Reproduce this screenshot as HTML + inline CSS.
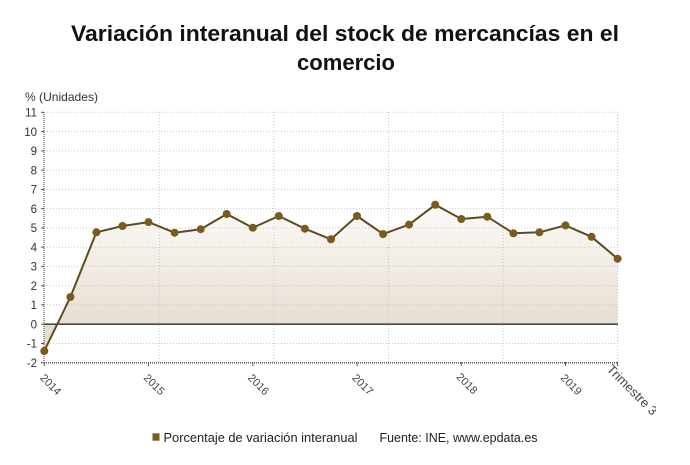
<!DOCTYPE html>
<html><head><meta charset="utf-8"><style>
html,body{margin:0;padding:0;background:#fff;}
svg{display:block;}
text{font-family:"Liberation Sans",sans-serif;}
</style></head><body>
<svg width="690" height="465" viewBox="0 0 690 465" xmlns="http://www.w3.org/2000/svg">
<defs>
<linearGradient id="g" gradientUnits="userSpaceOnUse" x1="0" y1="205" x2="0" y2="324">
<stop offset="0" stop-color="#fcfbf9"/>
<stop offset="1" stop-color="#e7ded2"/>
</linearGradient>
<clipPath id="cl"><rect x="0" y="0" width="656" height="465"/></clipPath>
</defs>
<rect width="690" height="465" fill="#fff"/>
<text x="345" y="41" text-anchor="middle" font-size="22" font-weight="bold" fill="#111" textLength="548" lengthAdjust="spacingAndGlyphs">Variación interanual del stock de mercancías en el</text>
<text x="346" y="70" text-anchor="middle" font-size="22" font-weight="bold" fill="#111" textLength="98" lengthAdjust="spacingAndGlyphs">comercio</text>
<text x="25" y="101" font-size="12" fill="#333" textLength="73" lengthAdjust="spacingAndGlyphs">% (Unidades)</text>

<!-- area -->
<polygon fill="url(#g)" points="44.3,324.2 44.3,351.0 70.4,297.0 96.4,232.3 122.5,226.0 148.5,222.1 174.6,232.7 200.7,229.2 226.7,214.0 252.8,227.7 278.8,216.0 304.9,228.7 331.0,239.3 357.0,216.0 383.1,234.1 409.1,224.6 435.2,204.8 461.3,219.0 487.3,216.7 513.4,233.3 539.4,232.3 565.5,225.4 591.6,236.8 617.6,258.7 617.6,324.2"/>

<!-- horizontal grid -->
<g stroke="#c8c8c8" stroke-width="1" stroke-dasharray="1,2">
<line x1="44" x2="618" y1="112.3" y2="112.3"/>
<line x1="44" x2="618" y1="131.6" y2="131.6"/>
<line x1="44" x2="618" y1="150.9" y2="150.9"/>
<line x1="44" x2="618" y1="170.1" y2="170.1"/>
<line x1="44" x2="618" y1="189.4" y2="189.4"/>
<line x1="44" x2="618" y1="208.6" y2="208.6"/>
<line x1="44" x2="618" y1="227.9" y2="227.9"/>
<line x1="44" x2="618" y1="247.2" y2="247.2"/>
<line x1="44" x2="618" y1="266.4" y2="266.4"/>
<line x1="44" x2="618" y1="285.7" y2="285.7"/>
<line x1="44" x2="618" y1="304.9" y2="304.9"/>
<line x1="44" x2="618" y1="343.5" y2="343.5"/>
</g>
<!-- vertical grid -->
<g stroke="#c8c8c8" stroke-width="1" stroke-dasharray="1,2">
<line x1="159.3" x2="159.3" y1="112" y2="362"/>
<line x1="273.9" x2="273.9" y1="112" y2="362"/>
<line x1="388.5" x2="388.5" y1="112" y2="362"/>
<line x1="503.1" x2="503.1" y1="112" y2="362"/>
<line x1="617.7" x2="617.7" y1="112" y2="362"/>
</g>

<!-- zero line -->
<line x1="44" x2="618" y1="324.2" y2="324.2" stroke="#4a4a44" stroke-width="1.6"/>

<!-- axes -->
<line x1="44" x2="44" y1="112" y2="363" stroke="#555" stroke-width="1.2" stroke-dasharray="1,1"/>
<line x1="44" x2="618" y1="362.7" y2="362.7" stroke="#555" stroke-width="1.5" stroke-dasharray="1,1"/>
<g stroke="#555" stroke-width="1">
<line x1="41" x2="44" y1="112.3" y2="112.3"/><line x1="41" x2="44" y1="131.6" y2="131.6"/>
<line x1="41" x2="44" y1="150.9" y2="150.9"/><line x1="41" x2="44" y1="170.1" y2="170.1"/>
<line x1="41" x2="44" y1="189.4" y2="189.4"/><line x1="41" x2="44" y1="208.6" y2="208.6"/>
<line x1="41" x2="44" y1="227.9" y2="227.9"/><line x1="41" x2="44" y1="247.2" y2="247.2"/>
<line x1="41" x2="44" y1="266.4" y2="266.4"/><line x1="41" x2="44" y1="285.7" y2="285.7"/>
<line x1="41" x2="44" y1="304.9" y2="304.9"/><line x1="41" x2="44" y1="324.2" y2="324.2"/>
<line x1="41" x2="44" y1="343.5" y2="343.5"/><line x1="41" x2="44" y1="362.7" y2="362.7"/>
<line x1="44.3" x2="44.3" y1="362" y2="366"/><line x1="148.5" x2="148.5" y1="362" y2="366"/>
<line x1="252.8" x2="252.8" y1="362" y2="366"/><line x1="357" x2="357" y1="362" y2="366"/>
<line x1="461.3" x2="461.3" y1="362" y2="366"/><line x1="565.5" x2="565.5" y1="362" y2="366"/>
<line x1="617.6" x2="617.6" y1="362" y2="366"/>
</g>

<!-- y labels -->
<g font-size="11.5" fill="#333" text-anchor="end">
<text x="37" y="116.5">11</text><text x="37" y="135.8">10</text>
<text x="37" y="155.1">9</text><text x="37" y="174.3">8</text>
<text x="37" y="193.6">7</text><text x="37" y="212.8">6</text>
<text x="37" y="232.1">5</text><text x="37" y="251.4">4</text>
<text x="37" y="270.6">3</text><text x="37" y="289.9">2</text>
<text x="37" y="309.1">1</text><text x="37" y="328.4">0</text>
<text x="37" y="347.7">-1</text><text x="37" y="366.9">-2</text>
</g>

<!-- x labels -->
<g font-size="11" fill="#444">
<text transform="translate(39.5,378.5) rotate(45)">2014</text>
<text transform="translate(143,378.5) rotate(45)">2015</text>
<text transform="translate(247.3,378.5) rotate(45)">2016</text>
<text transform="translate(351.5,378.5) rotate(45)">2017</text>
<text transform="translate(455.8,377.5) rotate(45)">2018</text>
<text transform="translate(560,378.5) rotate(45)">2019</text>
<g clip-path="url(#cl)"><text transform="translate(606,370) rotate(45)" font-size="13">Trimestre 3</text></g>
</g>

<!-- line -->
<polyline fill="none" stroke="#5e4a22" stroke-width="2" stroke-linejoin="round" points="44.3,351.0 70.4,297.0 96.4,232.3 122.5,226.0 148.5,222.1 174.6,232.7 200.7,229.2 226.7,214.0 252.8,227.7 278.8,216.0 304.9,228.7 331.0,239.3 357.0,216.0 383.1,234.1 409.1,224.6 435.2,204.8 461.3,219.0 487.3,216.7 513.4,233.3 539.4,232.3 565.5,225.4 591.6,236.8 617.6,258.7"/>
<g fill="#7a5a1e">
<circle cx="44.3" cy="351.0" r="4"/><circle cx="70.4" cy="297.0" r="4"/>
<circle cx="96.4" cy="232.3" r="4"/><circle cx="122.5" cy="226.0" r="4"/>
<circle cx="148.5" cy="222.1" r="4"/><circle cx="174.6" cy="232.7" r="4"/>
<circle cx="200.7" cy="229.2" r="4"/><circle cx="226.7" cy="214.0" r="4"/>
<circle cx="252.8" cy="227.7" r="4"/><circle cx="278.8" cy="216.0" r="4"/>
<circle cx="304.9" cy="228.7" r="4"/><circle cx="331.0" cy="239.3" r="4"/>
<circle cx="357.0" cy="216.0" r="4"/><circle cx="383.1" cy="234.1" r="4"/>
<circle cx="409.1" cy="224.6" r="4"/><circle cx="435.2" cy="204.8" r="4"/>
<circle cx="461.3" cy="219.0" r="4"/><circle cx="487.3" cy="216.7" r="4"/>
<circle cx="513.4" cy="233.3" r="4"/><circle cx="539.4" cy="232.3" r="4"/>
<circle cx="565.5" cy="225.4" r="4"/><circle cx="591.6" cy="236.8" r="4"/>
<circle cx="617.6" cy="258.7" r="4"/>
</g>

<!-- legend -->
<rect x="152.5" y="433.3" width="7" height="7.4" fill="#7a5a1e"/>
<text x="163.5" y="442" font-size="12.5" fill="#222" textLength="194" lengthAdjust="spacingAndGlyphs">Porcentaje de variación interanual</text>
<text x="379.5" y="442" font-size="12.5" fill="#222" textLength="158" lengthAdjust="spacingAndGlyphs">Fuente: INE, www.epdata.es</text>
</svg>
</body></html>
